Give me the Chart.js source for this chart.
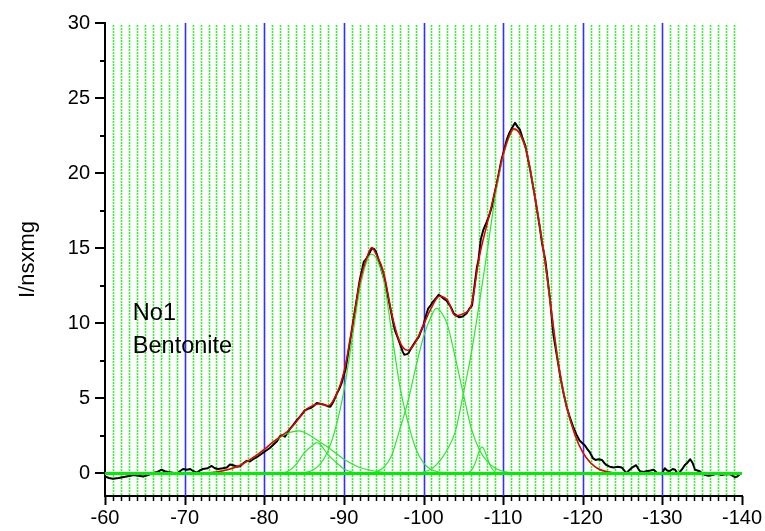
<!DOCTYPE html>
<html>
<head>
<meta charset="utf-8">
<script src="https://cdn.jsdelivr.net/npm/chart.js@4/dist/chart.umd.min.js"></script>
<style>
  body { margin: 0; background: #fff; }
  #wrap { width: 765px; height: 531px; }
</style>
</head>
<body>
<div id="wrap"><canvas id="nmr" width="765" height="531"></canvas></div>
<script>
// axis ticks
const xTicks = [-60, -70, -80, -90, -100, -110, -120, -130, -140];
const yTicks = [0, 5, 10, 15, 20, 25, 30];
const noteLines = ['No1', 'Bentonite'];
const yTitle = 'I/nsxmg';

// measured spectrum (black)
const expX = [-60.0,-60.5,-61.0,-61.7,-62.2,-62.7,-63.2,-63.6,-64.2,-64.8,-65.4,-66.1,-66.6,-67.1,-67.5,-67.9,-68.5,-69.0,-69.4,-69.8,
  -70.3,-70.7,-71.1,-71.5,-71.9,-72.3,-72.9,-73.4,-73.8,-74.2,-74.8,-75.3,-75.7,-76.1,-76.6,-77.0,-77.4,-77.8,-78.2,-78.6,
  -79.1,-79.5,-79.9,-80.3,-80.7,-81.1,-81.6,-82.0,-82.3,-82.6,-82.9,-83.2,-83.6,-84.1,-84.6,-85.1,-85.5,-85.8,-86.2,-86.6,
  -87.0,-87.4,-87.9,-88.3,-88.7,-89.1,-89.4,-89.7,-90.0,-90.2,-90.5,-90.8,-91.1,-91.4,-91.7,-92.0,-92.3,-92.5,-92.8,-93.1,
  -93.5,-93.8,-94.0,-94.2,-94.5,-94.8,-95.2,-95.5,-95.8,-96.1,-96.4,-96.8,-97.1,-97.4,-97.6,-97.9,-98.1,-98.4,-98.7,-99.0,
  -99.4,-99.7,-100.0,-100.3,-100.6,-100.9,-101.2,-101.6,-101.9,-102.2,-102.5,-102.9,-103.3,-103.6,-103.8,-104.2,-104.5,-104.9,-105.4,-105.8,
  -106.1,-106.5,-106.7,-106.9,-107.2,-107.5,-107.9,-108.2,-108.6,-108.9,-109.2,-109.5,-109.8,-110.2,-110.5,-110.8,-111.1,-111.5,-111.8,-112.1,
  -112.4,-112.8,-113.1,-113.4,-113.7,-114.0,-114.3,-114.6,-114.9,-115.3,-115.6,-115.9,-116.3,-116.7,-117.2,-117.6,-118.0,-118.4,-118.8,-119.2,
  -119.6,-120.0,-120.3,-120.6,-120.9,-121.3,-121.6,-122.0,-122.4,-122.7,-123.0,-123.4,-123.9,-124.4,-124.9,-125.2,-125.5,-125.8,-126.1,-126.4,
  -126.7,-127.0,-127.2,-127.6,-128.0,-128.5,-128.9,-129.2,-129.5,-129.9,-130.3,-130.6,-130.9,-131.3,-131.6,-131.9,-132.2,-132.5,-132.8,-133.2,
  -133.5,-133.8,-134.1,-134.4,-134.7,-135.0,-135.4,-135.8,-136.2,-136.6,-137.0,-137.4,-137.9,-138.5,-138.8,-139.1,-139.4,-139.8,-140.0];
const expY = [-0.2,-0.3,-0.35,-0.3,-0.25,-0.2,-0.15,-0.1,-0.15,-0.2,-0.1,0.05,0.1,0.25,0.15,0.1,0.05,0.0,0.15,0.3,
  0.25,0.3,0.15,0.05,0.2,0.3,0.35,0.5,0.35,0.3,0.35,0.4,0.6,0.55,0.45,0.5,0.7,0.85,0.8,0.95,
  1.1,1.25,1.4,1.55,1.7,1.9,2.15,2.5,2.55,2.45,2.7,2.95,3.2,3.55,3.85,4.2,4.3,4.35,4.5,4.7,
  4.65,4.6,4.5,4.45,4.8,5.3,5.6,6.0,6.6,6.9,7.9,8.9,9.9,10.9,11.9,12.9,13.6,14.1,14.3,14.55,
  15.0,14.95,14.8,14.5,14.0,13.4,12.7,11.9,11.1,10.3,9.55,9.0,8.55,8.1,7.9,7.95,8.0,8.3,8.55,8.8,
  9.1,9.5,9.9,10.5,11.0,11.2,11.45,11.7,11.9,11.8,11.65,11.5,11.2,10.9,10.65,10.5,10.4,10.45,10.65,11.0,
  11.2,12.9,13.7,14.2,15.6,16.2,16.7,17.1,17.8,18.6,19.3,20.1,20.9,21.7,22.3,22.7,23.0,23.35,23.1,22.9,
  22.4,21.8,21.0,20.2,19.3,18.4,17.4,16.4,15.3,14.2,12.9,11.55,9.3,8.0,6.4,5.3,4.4,3.7,3.1,2.6,
  2.2,2.0,1.85,1.6,1.4,1.0,0.9,0.95,0.9,0.7,0.55,0.45,0.4,0.45,0.4,0.2,0.0,0.2,0.35,0.45,
  0.55,0.3,0.15,0.1,0.15,0.2,0.25,0.1,0.0,-0.05,0.35,0.2,0.15,0.3,0.25,0.0,0.1,0.3,0.55,0.75,
  0.95,0.7,0.25,0.2,0.15,0.0,-0.1,-0.15,-0.1,-0.05,0.0,-0.1,-0.05,-0.05,-0.15,-0.25,-0.2,0.0,0.05];

// sum of fitted components (red)
const fitX = [-72,-73,-74,-75,-76,-77,-78,-79,-80,-81,-82,-83,-84,-85,-86,-87,-88,-89,-90,-91,-92,-93,-93.5,-94,-95,-96,-97,-98,-99,-100,
  -101,-102,-103,-104,-105,-106,-107,-108,-109,-110,-111,-111.3,-112,-113,-114,-115,-116,-117,-118,-119,-120,-121,-122,-123,-124,-125,-126];
const fitY = [0.02,0.05,0.1,0.2,0.35,0.55,0.85,1.2,1.6,2.05,2.45,2.85,3.42,4.15,4.5,4.65,4.5,5.2,6.75,9.55,12.75,14.55,15.05,14.65,13.4,10.65,8.8,8.2,8.75,9.9,
  11.05,11.8,11.55,10.5,10.65,11.2,14.4,16.65,18.85,21.25,22.75,22.95,22.7,21.3,18.4,15.1,11.1,7.1,4.4,2.6,1.4,0.7,0.3,0.12,0.04,0.01,0];

// individual components (green)
const g1X = [-74,-75,-76,-77,-78,-79,-80,-81,-82,-83,-84,-84.3,-85,-86,-87,-88,-89,-90,-91,-92,-93,-94,-95,-96,-97];
const g1Y = [0.1,0.2,0.35,0.55,0.85,1.2,1.6,2.05,2.4,2.7,2.82,2.84,2.75,2.45,2.1,1.75,1.35,0.95,0.65,0.4,0.25,0.15,0.08,0.04,0.02];
const g2X = [-82,-83,-84,-85,-86,-86.6,-87,-88,-89,-90,-91,-92];
const g2Y = [0.03,0.15,0.6,1.35,1.85,2.05,1.95,1.25,0.75,0.3,0.1,0.02];
const g3X = [-85,-86,-87,-88,-89,-90,-91,-92,-93,-93.5,-94,-95,-96,-97,-98,-99,-100,-101,-102,-103,-104];
const g3Y = [0.05,0.2,0.6,1.5,3.1,5.5,8.8,12.3,14.3,14.6,14.4,12.9,9.4,5.9,3.5,1.7,0.7,0.25,0.1,0.05,0.01];
const g4X = [-93,-94,-95,-96,-97,-98,-99,-100,-101,-101.6,-102,-103,-104,-105,-106,-107,-108,-109,-110,-111];
const g4Y = [0.03,0.1,0.4,1.2,2.9,4.7,7.0,9.1,10.5,11.0,10.9,9.9,7.7,5.3,3.0,1.6,0.8,0.35,0.15,0.05];
const g5X = [-105.5,-106,-106.5,-107,-107.3,-107.5,-108,-108.5,-109,-109.5];
const g5Y = [0.03,0.2,0.7,1.5,1.75,1.7,1.05,0.4,0.1,0.02];
const g6X = [-99,-100,-101,-102,-103,-104,-105,-106,-107,-108,-109,-110,-111,-111.3,-112,-113,-114,-115,-116,-117,-118,-119,-120,-121,-122,-123,-124,-125];
const g6Y = [0.03,0.1,0.3,0.8,1.6,2.8,5.3,8.0,11.3,14.8,18.4,21.1,22.7,22.9,22.7,21.3,18.4,15.1,11.1,7.1,4.4,2.6,1.4,0.7,0.3,0.12,0.04,0.01];
const baseX = [-60, -140];
const baseY = [0, 0];

function pts(xs, ys) {
  return xs.map((x, i) => ({ x: x, y: ys[i] }));
}

function component(xs, ys) {
  return {
    data: pts(xs, ys),
    borderColor: '#2ee62e',
    borderWidth: 1.2,
    cubicInterpolationMode: 'monotone',
    order: 3
  };
}

// vertical grid, minor ticks and the sample label
const decor = {
  id: 'decor',
  beforeDatasetsDraw(chart) {
    const { ctx, chartArea: a, scales: { x } } = chart;
    ctx.save();
    for (let v = -61; v > -140; v--) {
      const px = Math.round(x.getPixelForValue(v)) + 0.5;
      ctx.beginPath();
      if (v % 10 === 0) {
        ctx.setLineDash([]);
        ctx.strokeStyle = '#3030ff';
        ctx.lineWidth = 1.6;
        ctx.moveTo(px, a.top);
      } else {
        ctx.setLineDash([2, 1]);
        ctx.strokeStyle = '#33f033';
        ctx.lineWidth = 1.6;
        ctx.moveTo(px, a.top + 2);
      }
      ctx.lineTo(px, a.bottom);
      ctx.stroke();
    }
    ctx.restore();
  },
  afterDraw(chart) {
    const { ctx, chartArea: a, scales: { x, y } } = chart;
    ctx.save();
    ctx.strokeStyle = '#000';
    for (let v = -60; v >= -140; v--) {
      const major = v % 10 === 0;
      const px = Math.round(x.getPixelForValue(v)) + 0.5;
      ctx.lineWidth = major ? 2 : 1.5;
      ctx.beginPath();
      ctx.moveTo(px, a.bottom);
      ctx.lineTo(px, a.bottom + (major ? 9 : 5));
      ctx.stroke();
    }
    for (let i = 0; i <= 12; i++) {
      const v = i * 2.5;
      const major = i % 2 === 0;
      const py = Math.round(y.getPixelForValue(v));
      ctx.lineWidth = 2;
      ctx.beginPath();
      ctx.moveTo(a.left, py);
      ctx.lineTo(a.left - (major ? 10 : 5), py);
      ctx.stroke();
    }
    ctx.fillStyle = '#000';
    ctx.font = '23.5px "Liberation Sans", Arial, sans-serif';
    ctx.textBaseline = 'alphabetic';
    ctx.textAlign = 'left';
    const tx = x.getPixelForValue(-63.5);
    ctx.fillText(noteLines[0], tx, y.getPixelForValue(10.25));
    ctx.fillText(noteLines[1], tx, y.getPixelForValue(8.05));
    ctx.restore();
  }
};

const font20 = { family: '"Liberation Sans", Arial, sans-serif', size: 20 };

new Chart(document.getElementById('nmr'), {
  type: 'line',
  data: {
    datasets: [
      { data: pts(baseX, baseY), borderColor: '#00ee00', borderWidth: 3, order: 0 },
      { data: pts(fitX, fitY), borderColor: '#e80000', borderWidth: 1.5, cubicInterpolationMode: 'monotone', order: 1 },
      component(g1X, g1Y),
      component(g2X, g2Y),
      component(g3X, g3Y),
      component(g4X, g4Y),
      component(g5X, g5Y),
      component(g6X, g6Y),
      { data: pts(expX, expY), borderColor: '#000', borderWidth: 2, tension: 0, order: 5 }
    ]
  },
  options: {
    responsive: false,
    animation: false,
    devicePixelRatio: 1,
    layout: { padding: { top: 23, right: 23, bottom: 0, left: 0 } },
    elements: { point: { radius: 0 }, line: { borderJoinStyle: 'round' } },
    plugins: { legend: { display: false }, tooltip: { enabled: false } },
    scales: {
      x: {
        type: 'linear',
        reverse: true,
        min: -140,
        max: -60,
        afterBuildTicks: s => { s.ticks = xTicks.map(v => ({ value: v })); },
        afterFit: s => { s.height = 35; s.paddingLeft = 0; s.paddingRight = 0; },
        grid: { display: false, drawTicks: false },
        border: { display: true, color: '#000', width: 2 },
        ticks: { color: '#000', font: font20, padding: 10, maxRotation: 0, autoSkip: false }
      },
      y: {
        type: 'linear',
        min: -1.5,
        max: 30,
        afterBuildTicks: s => { s.ticks = yTicks.map(v => ({ value: v })); },
        afterFit: s => { s.width = 105; s.paddingTop = 0; s.paddingBottom = 0; },
        grid: { display: false, drawTicks: false },
        border: { display: true, color: '#000', width: 2 },
        ticks: { color: '#000', font: font20, padding: 15 },
        title: { display: true, text: yTitle, color: '#000', font: { family: font20.family, size: 22 }, padding: { top: 15, bottom: 0 } }
      }
    }
  },
  plugins: [decor]
});
</script>
</body>
</html>
